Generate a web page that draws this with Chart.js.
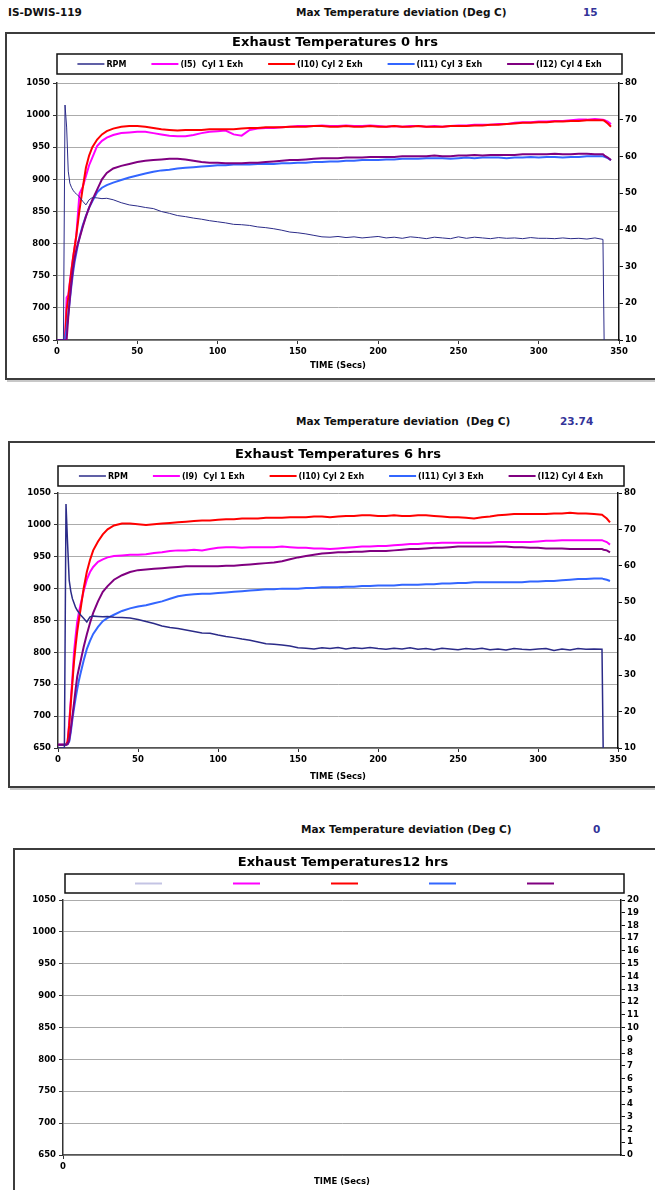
<!DOCTYPE html>
<html>
<head>
<meta charset="utf-8">
<script src="https://cdn.jsdelivr.net/npm/chart.js@4.4.0/dist/chart.umd.min.js"></script>
<style>
  html, body { margin: 0; padding: 0; background: #fff; }
  body { width: 655px; height: 1190px; overflow: hidden; position: relative; font-family: "DejaVu Sans", sans-serif; font-weight: bold; }
  .txt { position: absolute; font-size: 10.5px; line-height: 12px; white-space: pre; color: #111; }
  .val { color: #333399; }
  .box { position: absolute; border: 2px solid #3c3c3c; box-shadow: 2px 2px 0 #c8c8c8; background: #fff; }
  .box canvas { display: block; }
</style>
</head>
<body>
<div class="txt" style="left:8px; top:6px;">IS-DWIS-119</div>
<div class="txt" style="left:296px; top:6px;">Max Temperature deviation (Deg C)</div>
<div class="txt val" style="left:583px; top:6px;">15</div>
<div class="box" style="left:5px; top:32px; width:656px; height:344px;"><canvas id="chart0" width="656" height="344"></canvas></div>

<div class="txt" style="left:296px; top:415px;">Max Temperature deviation  (Deg C)</div>
<div class="txt val" style="left:560px; top:415px;">23.74</div>
<div class="box" style="left:8px; top:441px; width:656px; height:343px;"><canvas id="chart6" width="656" height="343"></canvas></div>

<div class="txt" style="left:301px; top:823px;">Max Temperature deviation (Deg C)</div>
<div class="txt val" style="left:593px; top:823px;">0</div>
<div class="box" style="left:13px; top:848px; width:656px; height:345px;"><canvas id="chart12" width="656" height="345"></canvas></div>

<script>
// time axis (secs), shared by the 0 hrs and 6 hrs runs
const timeSecs = [0, 4, 5, 6, 7, 8, 9, 10, 11, 12,
  13, 14, 16, 18, 20, 22, 25, 28, 31, 35,
  40, 45, 50, 55, 60, 65, 70, 75, 80, 85,
  90, 95, 100, 105, 110, 115, 120, 125, 130, 135,
  140, 145, 150, 155, 160, 165, 170, 175, 180, 185,
  190, 195, 200, 205, 210, 215, 220, 225, 230, 235,
  240, 245, 250, 255, 260, 265, 270, 275, 280, 285,
  290, 295, 300, 305, 310, 315, 320, 325, 330, 335,
  340, 341, 343, 345];

// 0 hrs
const rpm0 = [10, 10, 74, 68, 56, 52.7, 51.6, 50.8, 50.2, 49.8,
  49.4, 49.0, 47.8, 46.8, 48.2, 48.8, 48.7, 48.5, 48.6, 48.2,
  47.4, 46.8, 46.5, 46.1, 45.8, 45.0, 44.5, 43.9, 43.6, 43.2,
  42.9, 42.5, 42.2, 41.9, 41.5, 41.4, 41.2, 40.8, 40.6, 40.3,
  39.9, 39.4, 39.2, 38.9, 38.5, 38.1, 38.0, 38.2, 37.9, 38.1,
  37.8, 38.0, 38.2, 37.8, 38.0, 37.7, 38.1, 37.9, 37.6, 38.0,
  37.8, 37.6, 38.1, 37.7, 38.0, 37.8, 37.6, 37.9, 37.7, 37.8,
  37.6, 37.9, 37.7, 37.7, 37.6, 37.8, 37.6, 37.7, 37.5, 37.8,
  37.4, 0, null, null];
const cyl1_0 = [650, 650, 650, 716, 720, 740, 760, 778, 795, 812,
  845, 878, 888, 905, 922, 934, 952, 960, 965, 969,
  972, 973, 974, 974, 972, 970, 968, 967, 967, 969,
  972, 974, 975, 976, 970, 968, 977, 979, 980, 980,
  981, 982, 983, 983, 983, 984, 983, 983, 984, 983,
  983, 984, 983, 982, 983, 982, 983, 983, 982, 983,
  982, 983, 984, 984, 985, 985, 985, 986, 986, 988,
  989, 989, 990, 990, 991, 991, 992, 993, 993, 994,
  993, 992, 990, 986];
const cyl2_0 = [650, 650, 650, 697, 715, 738, 758, 778, 795, 812,
  832, 852, 886, 918, 937, 950, 962, 970, 975, 979,
  982, 983, 983, 982, 980, 978, 977, 976, 977, 977,
  977, 978, 978, 978, 978, 979, 980, 980, 981, 981,
  981, 982, 982, 982, 983, 983, 982, 982, 983, 982,
  982, 983, 982, 982, 983, 982, 982, 983, 982, 982,
  982, 983, 983, 983, 984, 984, 985, 985, 986, 987,
  988, 988, 989, 989, 990, 990, 991, 991, 992, 992,
  992, 991, 987, 982];
const cyl3_0 = [650, 650, 650, 668, 690, 712, 735, 755, 772, 785,
  798, 810, 828, 843, 856, 866, 880, 887, 891, 895,
  899, 903, 906, 909, 912, 914, 915, 917, 918, 919,
  920, 921, 922, 922, 923, 923, 923, 924, 924, 924,
  925, 925, 926, 926, 927, 927, 928, 928, 929, 929,
  930, 930, 930, 931, 931, 932, 932, 932, 933, 933,
  933, 932, 933, 934, 933, 934, 934, 934, 933, 934,
  934, 935, 934, 935, 935, 934, 935, 935, 936, 936,
  936, 935, 933, 930];
const cyl4_0 = [650, 650, 650, 650, 685, 715, 740, 762, 778, 790,
  800, 808, 826, 842, 856, 868, 884, 900, 910, 917,
  921, 924, 927, 929, 930, 931, 932, 932, 931, 929,
  927, 926, 926, 925, 925, 925, 926, 926, 927, 928,
  929, 930, 930, 931, 932, 933, 933, 933, 934, 934,
  934, 935, 935, 935, 935, 936, 936, 936, 936, 937,
  936, 936, 937, 937, 938, 937, 938, 938, 938, 938,
  939, 939, 939, 939, 940, 939, 939, 940, 940, 939,
  939, 937, 934, 930];

// 6 hrs
const rpm6 = [10, 10, 77, 66, 56, 53, 51, 49.8, 48.6, 47.8,
  47.2, 46.6, 45.6, 44.6, 46.0, 46.2, 46.1, 46.0, 46.1, 45.9,
  45.8, 45.7, 45.3, 44.7, 44.2, 43.5, 43.1, 42.8, 42.4, 42.0,
  41.6, 41.5, 41.0, 40.6, 40.3, 39.9, 39.6, 39.1, 38.6, 38.5,
  38.3, 38.0, 37.5, 37.4, 37.2, 37.5, 37.3, 37.6, 37.2, 37.5,
  37.3, 37.6, 37.3, 37.1, 37.4, 37.2, 37.5, 37.1, 37.3, 37.0,
  37.4, 37.2, 37.0, 37.3, 37.1, 37.4, 37.0, 37.2, 36.9, 37.3,
  37.1, 37.0, 37.2, 37.3, 36.8, 37.2, 36.9, 37.3, 37.1, 37.2,
  37.1, 0, null, null];
const cyl1_6 = [655, 655, 655, 660, 690, 725, 760, 800, 825, 848,
  862, 874, 896, 914, 926, 934, 942, 946, 949, 951,
  952, 953, 953, 954, 956, 957, 959, 960, 960, 961,
  960, 962, 964, 965, 965, 964, 965, 965, 965, 965,
  966, 965, 964, 964, 963, 963, 962, 963, 964, 965,
  966, 966, 967, 967, 968, 969, 970, 970, 971, 971,
  972, 972, 972, 972, 972, 972, 972, 973, 973, 973,
  973, 973, 974, 975, 975, 976, 976, 976, 976, 976,
  976, 975, 973, 969];
const cyl2_6 = [655, 655, 655, 660, 685, 720, 752, 785, 810, 832,
  850, 866, 900, 926, 945, 960, 974, 985, 993, 999,
  1002, 1002, 1001, 1000, 1001, 1002, 1003, 1004, 1005, 1006,
  1007, 1007, 1008, 1009, 1009, 1010, 1010, 1010, 1011, 1011,
  1011, 1012, 1012, 1012, 1013, 1013, 1012, 1013, 1014, 1014,
  1015, 1015, 1014, 1014, 1015, 1014, 1014, 1015, 1015, 1014,
  1013, 1012, 1012, 1011, 1010, 1012, 1013, 1015, 1016, 1017,
  1017, 1017, 1017, 1017, 1018, 1018, 1019, 1018, 1018, 1017,
  1016, 1014, 1010, 1004];
const cyl3_6 = [655, 655, 655, 656, 660, 675, 695, 712, 728, 742,
  755, 766, 787, 805, 818, 829, 840, 849, 854, 859,
  865, 869, 872, 874, 877, 880, 884, 888, 890, 891,
  892, 892, 893, 894, 895, 896, 897, 898, 899, 899,
  900, 900, 900, 901, 901, 902, 902, 902, 903, 903,
  904, 904, 905, 905, 905, 906, 906, 906, 907, 907,
  908, 908, 909, 909, 910, 910, 910, 910, 910, 910,
  910, 911, 911, 912, 912, 913, 914, 915, 915, 916,
  916, 915, 914, 912];
const cyl4_6 = [655, 655, 655, 656, 662, 680, 700, 720, 742, 762,
  774, 785, 808, 828, 846, 862, 880, 895, 904, 914,
  921, 926, 929, 930, 931, 932, 933, 934, 935, 935,
  935, 935, 935, 936, 936, 937, 938, 939, 940, 941,
  943, 946, 949, 951, 953, 955, 956, 957, 957, 958,
  958, 959, 959, 959, 960, 961, 962, 962, 963, 964,
  964, 965, 966, 966, 966, 966, 966, 966, 966, 965,
  965, 964, 964, 963, 963, 963, 962, 962, 962, 962,
  962, 961, 960, 957];

const labels0 = ['RPM', '(I5)  Cyl 1 Exh', '(I10) Cyl 2 Exh', '(I11) Cyl 3 Exh', '(I12) Cyl 4 Exh'];
const labels6 = ['RPM', '(I9)  Cyl 1 Exh', '(I10) Cyl 2 Exh', '(I11) Cyl 3 Exh', '(I12) Cyl 4 Exh'];
const labels12 = ['', '', '', '', ''];

const tempTicks = [650, 1050, 50];   // min, max, step
const rpmTicks = [10, 80, 10];
const rpmTicks12 = [0, 20, 1];

Chart.defaults.font.family = '"DejaVu Sans", sans-serif';
Chart.defaults.font.size = 8.5;
Chart.defaults.font.weight = 'bold';
Chart.defaults.color = '#000';

// legend drawn inside a framed box, Excel style
const boxedLegend = {
  id: 'boxedLegend',
  afterDraw(chart, args, o) {
    const ctx = chart.ctx;
    ctx.save();
    ctx.strokeStyle = '#111';
    ctx.lineWidth = 1.5;
    ctx.strokeRect(o.x0, o.y0, o.x1 - o.x0, o.y1 - o.y0);
    ctx.font = 'bold 8px "DejaVu Sans"';
    ctx.textBaseline = 'middle';
    const items = chart.data.datasets.map(ds => ({
      ds, w: o.line + (ds.label ? o.gap + ctx.measureText(ds.label).width : 0)
    }));
    const total = items.reduce((s, it) => s + it.w, 0) + o.spacing * (items.length - 1);
    let x = (o.x0 + o.x1) / 2 - total / 2;
    const y = (o.y0 + o.y1) / 2;
    items.forEach(it => {
      ctx.strokeStyle = it.ds.borderColor;
      ctx.lineWidth = Math.max(it.ds.borderWidth, 1.5);
      ctx.beginPath();
      ctx.moveTo(x, y);
      ctx.lineTo(x + o.line, y);
      ctx.stroke();
      if (it.ds.label) {
        ctx.fillStyle = '#000';
        ctx.fillText(it.ds.label, x + o.line + o.gap, y + 0.5);
      }
      x += it.w + o.spacing;
    });
    ctx.restore();
  }
};

const colors = ['#2b2b88', '#ff00ff', '#ff0000', '#3366ff', '#800080'];

function buildSets(names, rpm, temps, rpmColor, rpmWidth) {
  const sets = [{
    label: names[0], borderColor: rpmColor, backgroundColor: rpmColor, borderWidth: rpmWidth,
    yAxisID: 'y2', order: 0,
    data: rpm.map((v, i) => ({ x: timeSecs[i], y: v }))
  }];
  temps.forEach((vals, k) => {
    sets.push({
      label: names[k + 1], borderColor: colors[k + 1], backgroundColor: colors[k + 1], borderWidth: 2,
      yAxisID: 'y', order: 4 - k,
      data: vals.map((v, i) => ({ x: timeSecs[i], y: v }))
    });
  });
  return sets;
}

function makeChart(id, s) {
  return new Chart(document.getElementById(id), {
    type: 'line',
    data: { datasets: s.datasets },
    options: {
      responsive: false,
      animation: false,
      events: [],
      layout: { padding: 0 },
      elements: { point: { radius: 0 }, line: { tension: 0 } },
      plugins: {
        legend: { display: false },
        tooltip: { enabled: false },
        title: {
          display: true, text: s.title, color: '#000',
          font: { size: 13, weight: 'bold' },
          padding: { top: s.titleTop, bottom: s.titleBottom }
        },
        boxedLegend: s.legendBox
      },
      scales: {
        x: {
          type: 'linear', min: s.xRange[0], max: s.xRange[1],
          ticks: { stepSize: s.xRange[2], padding: 3, maxRotation: 0, callback: v => String(v) },
          afterBuildTicks: s.xOnlyZero ? (sc => { sc.ticks = [{ value: 0 }]; }) : undefined,
          grid: { drawOnChartArea: false, tickLength: 4, color: '#333' },
          border: { color: '#555', width: 1.5 },
          title: { display: true, text: 'TIME (Secs)', font: { size: 8.5, weight: 'bold' }, padding: { top: 0, bottom: s.xTitlePad } },
          afterFit: sc => { sc.height = s.xAxisH; }
        },
        y: {
          position: 'left', min: tempTicks[0], max: tempTicks[1],
          ticks: { stepSize: tempTicks[2], padding: 3, callback: v => String(v) },
          grid: { color: '#ababab', lineWidth: 1, tickLength: 4, tickColor: '#333' },
          border: { color: '#333', width: 1.5 },
          afterFit: sc => { sc.width = s.leftW; }
        },
        y2: {
          position: 'right', min: s.rpmTicks[0], max: s.rpmTicks[1],
          ticks: { stepSize: s.rpmTicks[2], padding: 2, autoSkip: false, callback: v => String(v) },
          grid: { drawOnChartArea: false, tickLength: 4, color: '#111' },
          border: { color: '#111', width: 1.5 },
          afterFit: sc => { sc.width = s.rightW; }
        }
      }
    },
    plugins: [boxedLegend]
  });
}

makeChart('chart0', {
  title: 'Exhaust Temperatures 0 hrs',
  datasets: buildSets(labels0, rpm0, [cyl1_0, cyl2_0, cyl3_0, cyl4_0], colors[0], 1),
  titleTop: 1.2, titleBottom: 32.2,
  leftW: 50, rightW: 44, xAxisH: 38, xTitlePad: 7,
  xRange: [0, 350, 50], rpmTicks: rpmTicks,
  legendBox: { x0: 50, x1: 615, y0: 20, y1: 40, line: 27, gap: 2, spacing: 25 }
});

makeChart('chart6', {
  title: 'Exhaust Temperatures 6 hrs',
  datasets: buildSets(labels6, rpm6, [cyl1_6, cyl2_6, cyl3_6, cyl4_6], colors[0], 1.5),
  titleTop: 4.2, titleBottom: 30.2,
  leftW: 48, rightW: 48, xAxisH: 38, xTitlePad: 4,
  xRange: [0, 350, 50], rpmTicks: rpmTicks,
  legendBox: { x0: 48, x1: 614, y0: 23, y1: 43, line: 27, gap: 2, spacing: 25 }
});

makeChart('chart12', {
  title: 'Exhaust Temperatures12 hrs',
  datasets: buildSets(labels12, [], [[], [], [], []], '#c4c4e4', 2),
  titleTop: 5.2, titleBottom: 29.2,
  leftW: 48, rightW: 50, xAxisH: 40, xTitlePad: 8,
  xRange: [0, 1, 1], xOnlyZero: true, rpmTicks: rpmTicks12,
  legendBox: { x0: 50, x1: 609, y0: 24, y1: 43, line: 27, gap: 0, spacing: 71 }
});
</script>
</body>
</html>
